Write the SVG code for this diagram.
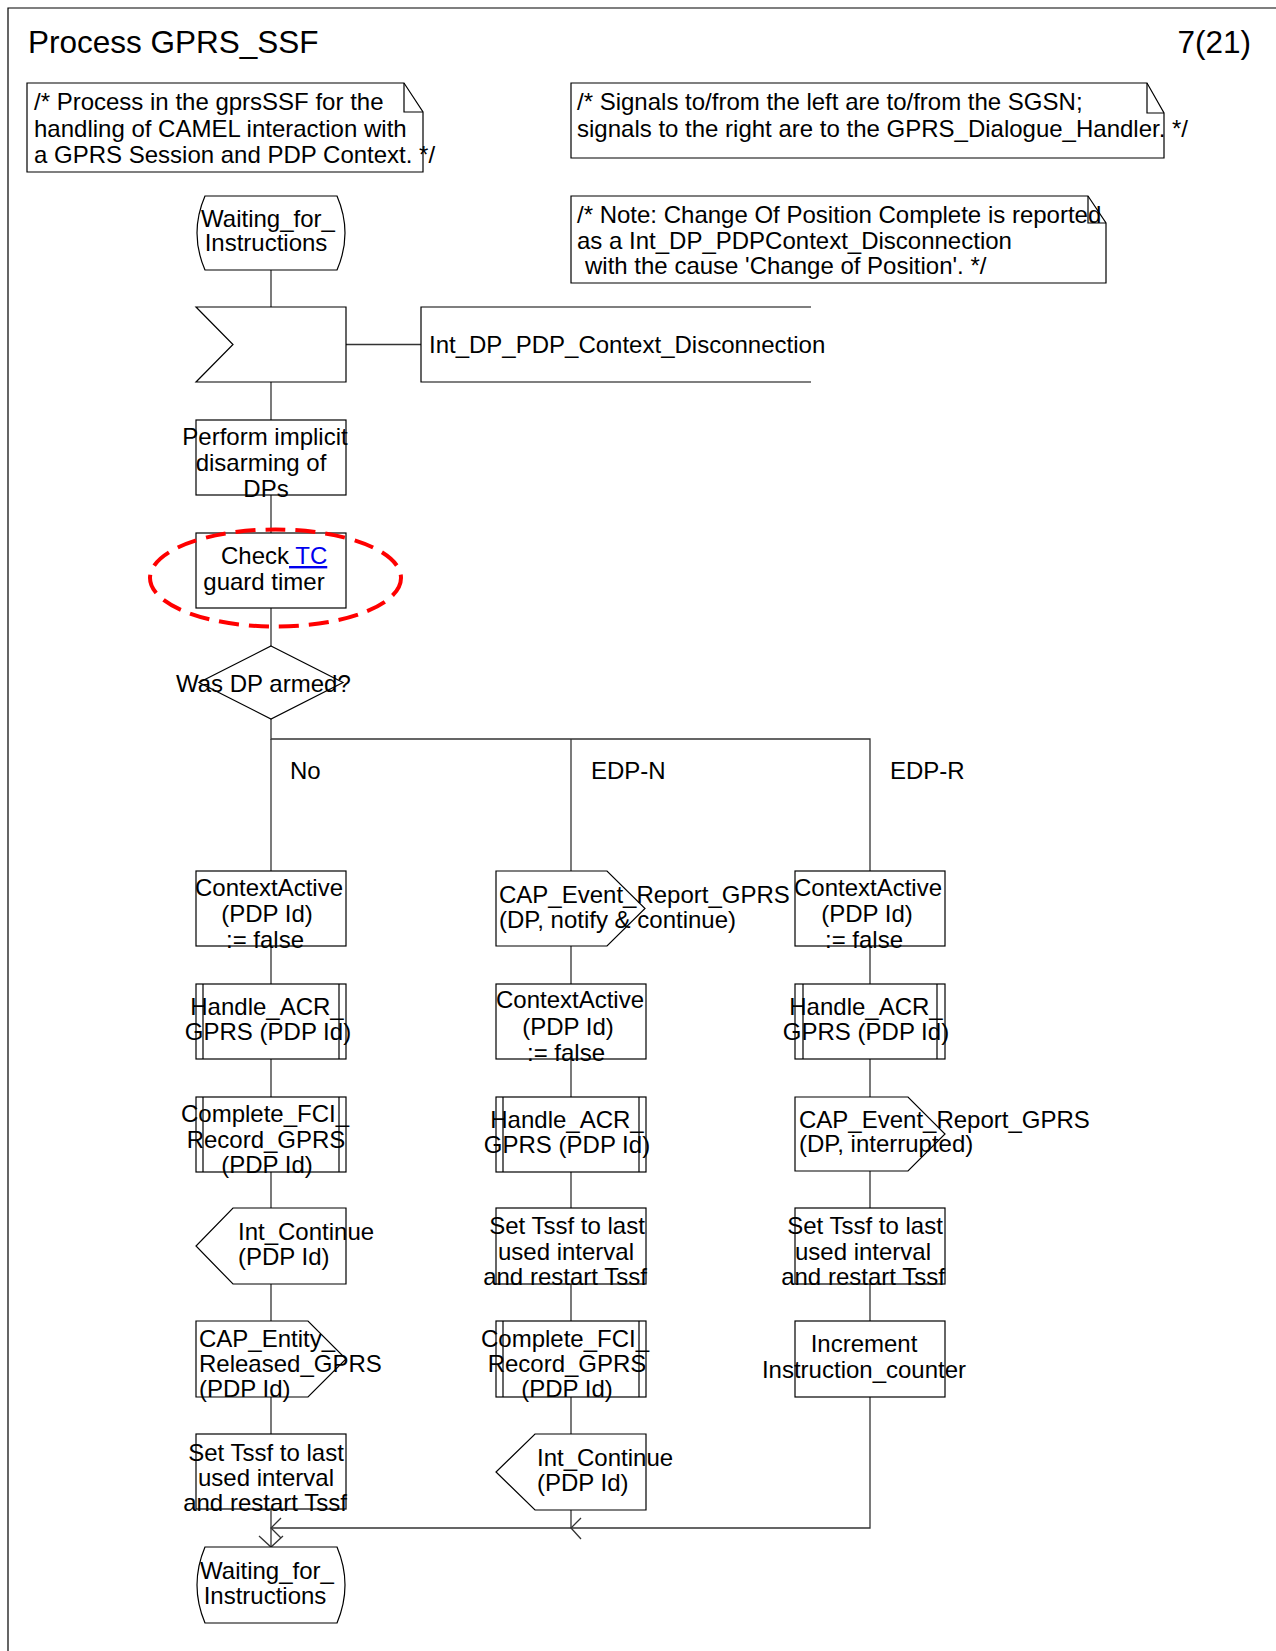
<svg xmlns="http://www.w3.org/2000/svg" width="1276" height="1651" viewBox="0 0 1276 1651">
<defs>
<style>
text{font-family:"Liberation Sans",Arial,sans-serif;font-size:24px;fill:#000}
.t{font-size:31.5px}
.m{text-anchor:middle}
.s{fill:#fff;stroke:#000;stroke-width:1.2}
.f{fill:none;stroke:#000;stroke-width:1.2}
.c{fill:none;stroke:#333;stroke-width:1.3}
.lnk{fill:#0000ee;text-decoration:underline}
.hl{fill:none;stroke:#ff0000;stroke-width:4;stroke-dasharray:20 10}
</style>
</defs>
<rect width="1276" height="1651" fill="#fff"/>
<path d="M8,1651 V8 H1276" class="f"/>
<text x="28" y="53" class="t">Process GPRS_SSF</text>
<text x="1251" y="53" class="t" text-anchor="end">7(21)</text>

<g id="note1">
<path d="M27,83 H404 L423,112 V172 H27 Z" class="s"/>
<path d="M404,83 V112 H423" class="f"/>
<text x="34" y="110">/* Process in the gprsSSF for the</text>
<text x="34" y="137">handling of CAMEL interaction with</text>
<text x="34" y="163">a GPRS Session and PDP Context. */</text>
</g>
<g id="note2">
<path d="M571,83 H1147 L1164,113 V158 H571 Z" class="s"/>
<path d="M1147,83 V113 H1164" class="f"/>
<text x="577" y="110">/* Signals to/from the left are to/from the SGSN;</text>
<text x="577" y="137">signals to the right are to the GPRS_Dialogue_Handler. */</text>
</g>
<g id="note3">
<path d="M571,196 H1088 L1106,223 V283 H571 Z" class="s"/>
<path d="M1088,196 V223 H1106" class="f"/>
<text x="577" y="223">/* Note: Change Of Position Complete is reported</text>
<text x="577" y="249">as a Int_DP_PDPContext_Disconnection</text>
<text x="585" y="274">with the cause 'Change of Position'. */</text>
</g>

<g id="connectors">
<path class="c" d="M271,270 V307"/>
<path class="c" d="M346,344.5 H421"/>
<path class="c" d="M271,382 V420"/>
<path class="c" d="M271,495 V533"/>
<path class="c" d="M271,608 V646"/>
<path class="c" d="M271,719 V739 H870 V871"/>
<path class="c" d="M271,739 V871"/>
<path class="c" d="M571,739 V871"/>
<path class="c" d="M271,946 V984 M271,1059 V1097 M271,1172 V1208 M271,1284 V1321 M271,1397 V1434 M271,1509 V1547"/>
<path class="c" d="M571,946 V984 M571,1059 V1097 M571,1172 V1208 M571,1284 V1321 M571,1397 V1434 M571,1510 V1528"/>
<path class="c" d="M870,946 V984 M870,1059 V1097 M870,1171 V1208 M870,1284 V1321 M870,1397 V1528 H271"/>
<path class="c" d="M281,1518 L271,1528 L281,1538"/>
<path class="c" d="M259,1536 L271,1547 L283,1536"/>
<path class="c" d="M581,1518 L571,1528 L581,1539"/>
</g>

<g id="start_state">
<path d="M205,196 H337 Q353,233 337,270 H205 Q189,233 205,196 Z" class="s"/>
<text x="268" y="227" class="m">Waiting_for_</text>
<text x="266" y="251" class="m">Instructions</text>
</g>
<g id="input_disconnection">
<path d="M196,307 H346 V382 H196 L233,344.5 Z" class="s"/>
<path d="M811,307 H421 V382 H811" class="f"/>
<text x="429" y="353">Int_DP_PDP_Context_Disconnection</text>
</g>
<g id="task_disarm">
<rect x="196" y="420" width="150" height="75" class="s"/>
<text x="265" y="445" class="m">Perform implicit</text>
<text x="261" y="471" class="m">disarming of</text>
<text x="266" y="497" class="m">DPs</text>
</g>
<g id="task_check_tc">
<rect x="196" y="533" width="150" height="75" class="s"/>
<text x="221" y="564">Check<tspan class="lnk"> TC</tspan></text>
<text x="264" y="590" class="m">guard timer</text>
<ellipse cx="275.5" cy="578" rx="125.5" ry="48.5" class="hl"/>
</g>
<g id="decision">
<path d="M271,646 L343,682.5 L271,719 L199,682.5 Z" class="s"/>
<text x="176" y="692">Was DP armed?</text>
</g>
<g id="labels">
<text x="290" y="779">No</text>
<text x="591" y="779">EDP-N</text>
<text x="890" y="779">EDP-R</text>
</g>

<g id="c1_ctx">
<rect x="196" y="871" width="150" height="75" class="s"/>
<text x="269" y="896" class="m">ContextActive</text>
<text x="267" y="922" class="m">(PDP Id)</text>
<text x="265" y="948" class="m">:= false</text>
</g>
<g id="c1_acr">
<rect x="196" y="984" width="150" height="75" class="s"/>
<path d="M203,984 V1059 M339,984 V1059" class="f"/>
<text x="267" y="1015" class="m">Handle_ACR_</text>
<text x="268" y="1040" class="m">GPRS (PDP Id)</text>
</g>
<g id="c1_fci">
<rect x="196" y="1097" width="150" height="75" class="s"/>
<path d="M203,1097 V1172 M339,1097 V1172" class="f"/>
<text x="265" y="1122" class="m">Complete_FCI_</text>
<text x="266" y="1148" class="m">Record_GPRS</text>
<text x="267" y="1173" class="m">(PDP Id)</text>
</g>
<g id="c1_continue">
<path d="M233,1208 H346 V1284 H233 L196,1246 Z" class="s"/>
<text x="238" y="1240">Int_Continue</text>
<text x="238" y="1265">(PDP Id)</text>
</g>
<g id="c1_released">
<path d="M196,1321 H308 L346,1359 L308,1397 H196 Z" class="s"/>
<text x="199" y="1347">CAP_Entity_</text>
<text x="199" y="1372">Released_GPRS</text>
<text x="199" y="1397">(PDP Id)</text>
</g>
<g id="c1_tssf">
<rect x="196" y="1434" width="150" height="75" class="s"/>
<text x="266" y="1461" class="m">Set Tssf to last</text>
<text x="266" y="1486" class="m">used interval</text>
<text x="265" y="1511" class="m">and restart Tssf</text>
</g>
<g id="end_state">
<path d="M205,1547 H337 Q353,1585 337,1623 H205 Q189,1585 205,1547 Z" class="s"/>
<text x="267" y="1579" class="m">Waiting_for_</text>
<text x="265" y="1604" class="m">Instructions</text>
</g>

<g id="c2_report">
<path d="M496,871 H607 L645,908.5 L607,946 H496 Z" class="s"/>
<text x="499" y="903">CAP_Event_Report_GPRS</text>
<text x="499" y="928">(DP, notify &amp; continue)</text>
</g>
<g id="c2_ctx">
<rect x="496" y="984" width="150" height="75" class="s"/>
<text x="570" y="1008" class="m">ContextActive</text>
<text x="568" y="1035" class="m">(PDP Id)</text>
<text x="566" y="1061" class="m">:= false</text>
</g>
<g id="c2_acr">
<rect x="496" y="1097" width="150" height="75" class="s"/>
<path d="M503,1097 V1172 M639,1097 V1172" class="f"/>
<text x="567" y="1128" class="m">Handle_ACR_</text>
<text x="567" y="1153" class="m">GPRS (PDP Id)</text>
</g>
<g id="c2_tssf">
<rect x="496" y="1208" width="150" height="76" class="s"/>
<text x="567" y="1234" class="m">Set Tssf to last</text>
<text x="566" y="1260" class="m">used interval</text>
<text x="565" y="1285" class="m">and restart Tssf</text>
</g>
<g id="c2_fci">
<rect x="496" y="1321" width="150" height="76" class="s"/>
<path d="M503,1321 V1397 M639,1321 V1397" class="f"/>
<text x="565" y="1347" class="m">Complete_FCI_</text>
<text x="567" y="1372" class="m">Record_GPRS</text>
<text x="567" y="1397" class="m">(PDP Id)</text>
</g>
<g id="c2_continue">
<path d="M535,1434 H646 V1510 H535 L496,1472 Z" class="s"/>
<text x="537" y="1466">Int_Continue</text>
<text x="537" y="1491">(PDP Id)</text>
</g>

<g id="c3_ctx">
<rect x="795" y="871" width="150" height="75" class="s"/>
<text x="868" y="896" class="m">ContextActive</text>
<text x="867" y="922" class="m">(PDP Id)</text>
<text x="864" y="948" class="m">:= false</text>
</g>
<g id="c3_acr">
<rect x="795" y="984" width="150" height="75" class="s"/>
<path d="M803,984 V1059 M937,984 V1059" class="f"/>
<text x="866" y="1015" class="m">Handle_ACR_</text>
<text x="866" y="1040" class="m">GPRS (PDP Id)</text>
</g>
<g id="c3_report">
<path d="M795,1097 H908 L945,1134 L908,1171 H795 Z" class="s"/>
<text x="799" y="1128">CAP_Event_Report_GPRS</text>
<text x="799" y="1152">(DP, interrupted)</text>
</g>
<g id="c3_tssf">
<rect x="795" y="1208" width="150" height="76" class="s"/>
<text x="865" y="1234" class="m">Set Tssf to last</text>
<text x="863" y="1260" class="m">used interval</text>
<text x="863" y="1285" class="m">and restart Tssf</text>
</g>
<g id="c3_increment">
<rect x="795" y="1321" width="150" height="76" class="s"/>
<text x="864" y="1352" class="m">Increment</text>
<text x="864" y="1378" class="m">Instruction_counter</text>
</g>
</svg>
